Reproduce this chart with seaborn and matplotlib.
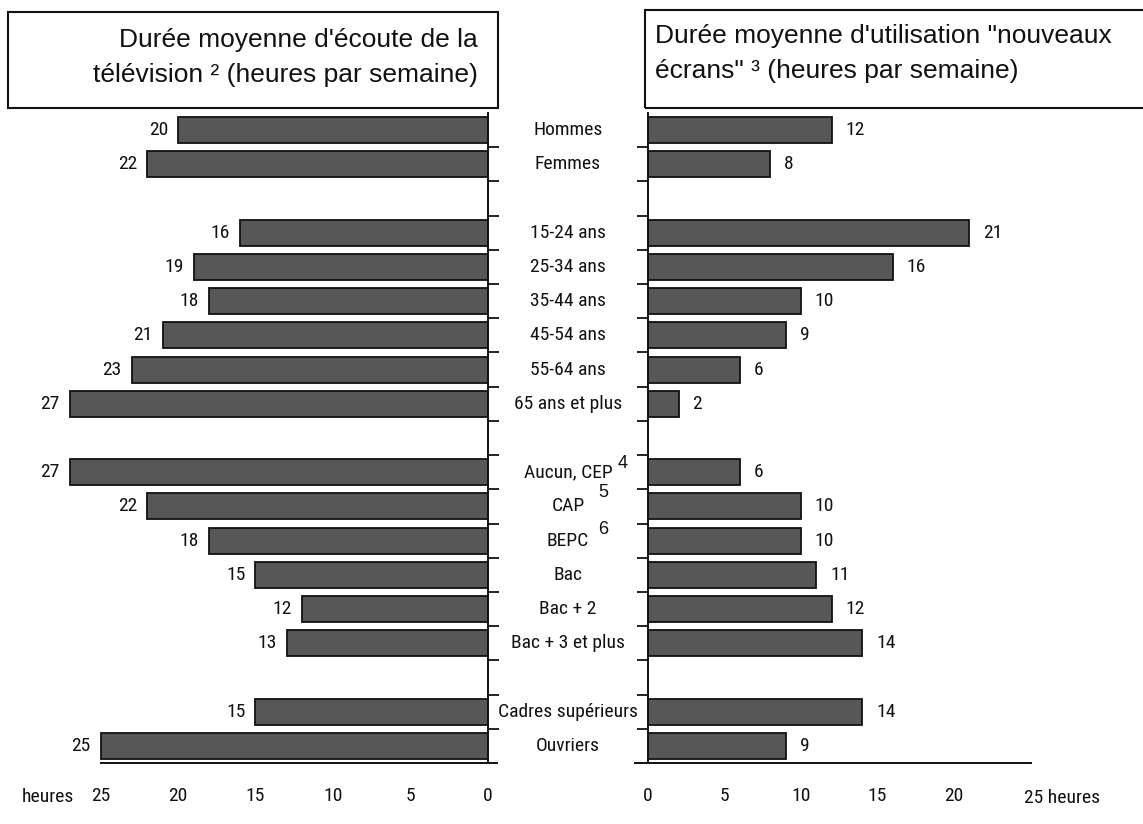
import os
import matplotlib
matplotlib.use("Agg")
import matplotlib.pyplot as plt
import matplotlib.transforms as mtransforms
from matplotlib import font_manager as fm
from matplotlib.patches import Rectangle
import seaborn as sns
import pandas as pd

# ---------------- data ----------------
categories = ["Hommes", "Femmes",
              "15-24 ans", "25-34 ans", "35-44 ans", "45-54 ans", "55-64 ans", "65 ans et plus",
              "Aucun, CEP", "CAP", "BEPC", "Bac", "Bac + 2", "Bac + 3 et plus",
              "Cadres supérieurs", "Ouvriers"]
group_sizes = [2, 6, 6, 2]
tv_hours = [20, 22, 16, 19, 18, 21, 23, 27, 27, 22, 18, 15, 12, 13, 15, 25]
screen_hours = [12, 8, 21, 16, 10, 9, 6, 2, 6, 10, 10, 11, 12, 14, 14, 9]
footnotes = {"Aucun, CEP": "4", "CAP": "5", "BEPC": "6"}
x_ticks = [0, 5, 10, 15, 20, 25]
title_left = ["Durée moyenne d'écoute de la", "télévision ² (heures par semaine)"]
title_right = ["Durée moyenne d'utilisation \"nouveaux", "écrans\" ³ (heures par semaine)"]

# row positions with a blank slot between groups
positions = []
p = 0
for g in group_sizes:
    for _ in range(g):
        positions.append(p)
        p += 1
    p += 1
n_slots = p - 1          # number of used slots (last blank dropped)

df = pd.DataFrame({"cat": categories, "pos": positions,
                   "tv": tv_hours, "screen": screen_hours})

sns.set_theme(style="white")
plt.rcParams["font.family"] = ["Liberation Sans", "DejaVu Sans"]


# ---------- look for a narrow / condensed sans font ----------
def find_narrow():
    files = [f.fname for f in fm.fontManager.ttflist]
    prefs = ["LiberationSansNarrow-Regular", "ArialNarrow", "Arial Narrow",
             "RobotoCondensed-Regular", "Roboto_Condensed-Regular",
             "DejaVuSansCondensed.ttf", "NotoSans-Condensed.ttf",
             "NotoSans-CondensedRegular", "OpenSans-CondensedRegular",
             "OpenSans_Condensed-Regular"]
    for pref in prefs:
        for f in files:
            if pref.lower() in os.path.basename(f).lower():
                return fm.FontProperties(fname=f)
    bad = ("bold", "italic", "oblique", "light", "thin", "medium", "black", "semi", "extra")
    for f in files:
        b = os.path.basename(f).lower()
        if ("narrow" in b or "condensed" in b) and not any(x in b for x in bad):
            return fm.FontProperties(fname=f)
    return fm.FontProperties(family=["Roboto", "Liberation Sans", "DejaVu Sans"])


NARROW = find_narrow()


def nfp(size):
    fp = NARROW.copy()
    fp.set_size(size)
    return fp


W, H = 1143, 824
fig = plt.figure(figsize=(W / 100, H / 100), dpi=100)
fig.patch.set_facecolor("white")

bottom = 1 - 763 / H
top = 1 - 113 / H
axL = fig.add_axes([23 / W, bottom, (488 - 23) / W, top - bottom])
axR = fig.add_axes([648 / W, bottom, (1107 - 648) / W, top - bottom])

bar_color = "#575757"
for ax, col in ((axL, "tv"), (axR, "screen")):
    sns.barplot(data=df, x=col, y="pos", orient="h", native_scale=True,
                width=0.76, color=bar_color, edgecolor="#111111",
                linewidth=1.3, saturation=1, ax=ax)
    ax.set_ylim(n_slots - 0.5, -0.5)
    ax.set_xlabel("")
    ax.set_ylabel("")
    ax.set_facecolor("white")
    ax.set_yticks([k + 0.5 for k in range(n_slots - 1)])
    ax.set_yticklabels([])
    ax.set_xticks(x_ticks)
    ax.tick_params(axis="y", direction="out", length=8, width=1.3, color="#111111")
    ax.tick_params(axis="x", direction="out", length=7, width=1.3, color="#111111",
                   pad=10)
    for s in ax.spines.values():
        s.set_color("#111111")
        s.set_linewidth(1.4)
    ax.spines["top"].set_visible(False)

# left panel: reversed axis, spine at 0 on the right
axL.set_xlim(30, 0)
axL.spines["left"].set_visible(False)
axL.spines["bottom"].set_bounds(-0.6, 25)
axL.yaxis.tick_right()
axL.set_xticklabels([str(t) for t in x_ticks])

axR.set_xlim(0, 30)
axR.spines["right"].set_visible(False)
axR.spines["bottom"].set_bounds(-0.85, 25)
axR.yaxis.tick_left()
axR.set_xticklabels([str(t) for t in x_ticks[:-1]] + [""])

for ax in (axL, axR):
    for lab in ax.get_xticklabels():
        lab.set_fontproperties(nfp(14))
        lab.set_color("#111111")

# value labels
for v, y in zip(df["tv"], df["pos"]):
    axL.annotate(str(v), (v, y), xytext=(-7, 0), textcoords="offset points",
                 ha="right", va="center", fontproperties=nfp(14), color="#111111")
for v, y in zip(df["screen"], df["pos"]):
    axR.annotate(str(v), (v, y), xytext=(10, 0), textcoords="offset points",
                 ha="left", va="center", fontproperties=nfp(14), color="#111111")

# category labels in the middle
trans = mtransforms.blended_transform_factory(fig.transFigure, axL.transData)
sup_offsets = {"Aucun, CEP": (36, 6), "CAP": (22, 10), "BEPC": (22, 8)}
for c, y in zip(df["cat"], df["pos"]):
    axL.text(568 / W, y, c, transform=trans, ha="center", va="center",
             fontproperties=nfp(14), color="#111111", clip_on=False)
    if c in footnotes:
        dx, dy = sup_offsets[c]
        axL.annotate(footnotes[c], (568 / W, y), xycoords=trans,
                     xytext=(dx, dy), textcoords="offset points",
                     ha="left", va="center", fontsize=13, color="#111111",
                     annotation_clip=False)

# "heures" labels
fig.text(22 / W, 1 - 797 / H, "heures", ha="left", va="center",
         fontproperties=nfp(14), color="#111111")
axR.annotate("25 heures", (25, 0), xycoords=("data", "axes fraction"),
             xytext=(-4.5, -25), textcoords="offset points", ha="left", va="center",
             fontproperties=nfp(14), color="#111111", annotation_clip=False)

# title boxes
fig.patches.append(Rectangle((8 / W, 1 - 108 / H), 490 / W, 96 / H,
                             transform=fig.transFigure, fill=False,
                             edgecolor="#111111", linewidth=1.5))
fig.patches.append(Rectangle((645 / W, 1 - 108 / H), 520 / W, 98 / H,
                             transform=fig.transFigure, fill=False,
                             edgecolor="#111111", linewidth=1.5, clip_on=False))
for line, base in zip(title_left, (47, 82)):
    fig.text(478 / W, 1 - base / H, line, ha="right", va="baseline",
             fontsize=19, color="#111111")
for line, base in zip(title_right, (43, 78)):
    fig.text(655 / W, 1 - base / H, line, ha="left", va="baseline",
             fontsize=19, color="#111111")

fig.savefig("out.png", dpi=100, facecolor="white")
